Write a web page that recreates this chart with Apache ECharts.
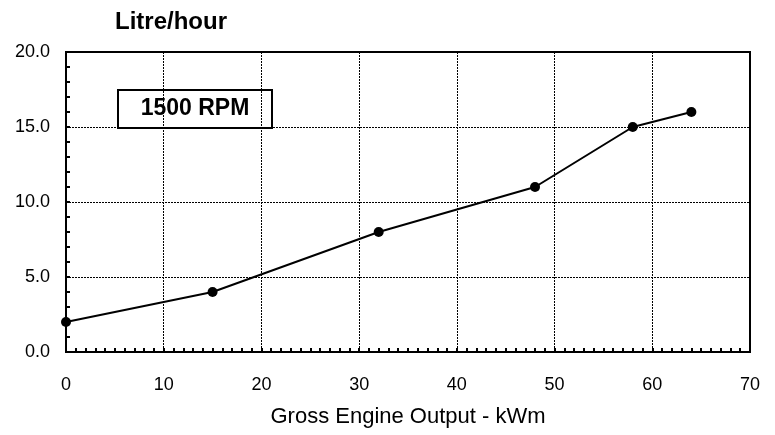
<!DOCTYPE html>
<html><head><meta charset="utf-8">
<script src="https://cdn.jsdelivr.net/npm/echarts@6/dist/echarts.min.js"></script>
<style>html,body{margin:0;padding:0;background:#fff}#c{width:775px;height:435px}</style>
</head><body><div id="c"></div>
<script>
const outputKWm = [0, 15, 32, 48, 58, 64];
const litrePerHour = [2, 4, 8, 11, 15, 16];
const xTicks = [0, 10, 20, 30, 40, 50, 60, 70];
const yTicks = [0, 5, 10, 15, 20];
const titleText = 'Litre/hour';
const xName = 'Gross Engine Output - kWm';
const boxLabel = '1500 RPM';

const F = '"Liberation Sans", Arial, sans-serif';
const chart = echarts.init(document.getElementById('c'), null, {renderer: 'canvas'});
const gridL = 66, gridR = 25, gridT = 52, gridB = 83;
chart.setOption({
  animation: false,
  title: {text: titleText, left: 110, top: 5, textStyle: {fontFamily: F, fontWeight: 'bold', fontSize: 24, color: '#000'}},
  grid: {left: gridL, right: gridR, top: gridT, bottom: gridB, show: true, borderColor: '#000', borderWidth: 2, backgroundColor: '#fff'},
  xAxis: {
    type: 'value', min: xTicks[0], max: xTicks[xTicks.length-1], interval: 10,
    name: xName, nameLocation: 'middle', nameGap: 54,
    nameTextStyle: {fontFamily: F, fontSize: 22, color: '#000'},
    axisLine: {lineStyle: {color: '#000', width: 2}},
    axisTick: {show: true, inside: true, length: 4, lineStyle: {color: '#000', width: 2}},
    minorTick: {show: true, splitNumber: 10, length: 4, lineStyle: {color: '#000', width: 2}},
    axisLabel: {fontFamily: F, fontSize: 18, color: '#000', margin: 24},
    splitLine: {show: true, lineStyle: {color: '#000', width: 1, type: [2, 1]}}
  },
  yAxis: {
    type: 'value', min: yTicks[0], max: yTicks[yTicks.length-1], interval: 5,
    axisLine: {show: true, lineStyle: {color: '#000', width: 2}},
    axisTick: {show: true, inside: true, length: 4, lineStyle: {color: '#000', width: 2}},
    minorTick: {show: true, splitNumber: 5, length: 4, lineStyle: {color: '#000', width: 2}},
    axisLabel: {fontFamily: F, fontSize: 18, color: '#000', margin: 16, formatter: v => v.toFixed(1)},
    splitLine: {show: true, lineStyle: {color: '#000', width: 1, type: [2, 1]}}
  },
  series: [{
    type: 'line',
    data: outputKWm.map((x, i) => [x, litrePerHour[i]]),
    symbol: 'circle', symbolSize: 10,
    lineStyle: {color: '#000', width: 2},
    itemStyle: {color: '#000'},
    z: 5
  }],
  graphic: [{
    type: 'group', left: 117, top: 89,
    children: [
      {type: 'rect', shape: {x: 0, y: 0, width: 154, height: 38}, style: {fill: '#fff', stroke: '#000', lineWidth: 2}},
      {type: 'text', x: 77, y: 19, style: {text: boxLabel, fontFamily: F, fontWeight: 'bold', fontSize: 23, fill: '#000', align: 'center', verticalAlign: 'middle'}}
    ], z: 10
  }]
});
</script></body></html>
